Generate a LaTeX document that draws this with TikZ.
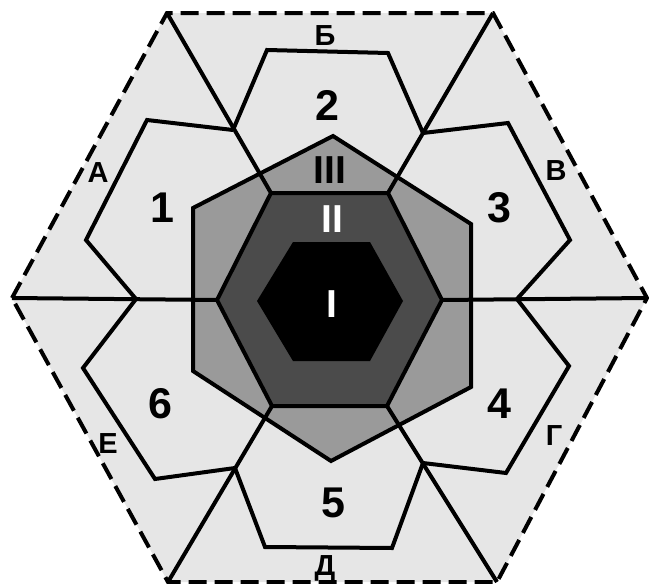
\documentclass[tikz,border=0pt]{standalone}
\usepackage{fontspec}
\setmainfont{Liberation Sans}
\definecolor{zonelight}{HTML}{E6E6E6}
\definecolor{zonemid}{HTML}{9A9A9A}
\definecolor{zonedark}{HTML}{4B4B4B}

\begin{document}
\begin{tikzpicture}[x=1pt, y=-1pt, line join=miter,
    edge/.style={line width=4pt, black},
    border/.style={line width=4pt, black, dash pattern=on 18pt off 8pt},
    cellnum/.style={font=\fontsize{43}{43}\selectfont\bfseries, anchor=base, inner sep=0pt},
    sector/.style={font=\fontsize{29}{29}\selectfont\bfseries, anchor=base, inner sep=0pt},
    zone/.style={font=\fontsize{39}{39}\selectfont\bfseries, anchor=base, inner sep=0pt}]
  \useasboundingbox (0,0) rectangle (649,584);

  % Outer hexagon corners
  \coordinate (oL) at (12,298);
  \coordinate (oTL) at (167,13);
  \coordinate (oTR) at (493,13);
  \coordinate (oR) at (647,298);
  \coordinate (oBR) at (497,582);
  \coordinate (oBL) at (168,582);
  \fill[zonelight] (oL) -- (oTL) -- (oTR) -- (oR) -- (oBR) -- (oBL) -- cycle;

  % Zone III
  \fill[zonemid] (333,136) -- (471,224) -- (471,387) -- (331,461) -- (193,371) -- (193,208) -- cycle;
  \draw[edge] (333,136) -- (471,224) -- (471,387) -- (331,461) -- (193,371) -- (193,208) -- cycle;

  % Zone II corners
  \coordinate (iL) at (217,300);
  \coordinate (iTL) at (271,193);
  \coordinate (iTR) at (388,193);
  \coordinate (iR) at (442,300);
  \coordinate (iBR) at (387,406);
  \coordinate (iBL) at (272,406);

  % Junctions on the rays
  \coordinate (j1) at (233,130);
  \coordinate (j2) at (423,133);
  \coordinate (j3) at (517,299);
  \coordinate (j4) at (423,463);
  \coordinate (j5) at (235,468);
  \coordinate (j6) at (136,299);

  % Cells 1..6
  \draw[edge] (j1) -- (147,120) -- (86,240) -- (j6);
  \draw[edge] (j1) -- (267,50) -- (388,53) -- (j2);
  \draw[edge] (j2) -- (508,123) -- (570,240) -- (j3);
  \draw[edge] (j3) -- (569,366) -- (506,473) -- (j4);
  \draw[edge] (j4) -- (392,548) -- (265,547) -- (j5);
  \draw[edge] (j5) -- (155,479) -- (83,368) -- (j6);

  % Rays
  \draw[edge] (oTL) -- (iTL);
  \draw[edge] (oTR) -- (iTR);
  \draw[edge] (oR) -- (iR);
  \draw[edge] (oBR) -- (iBR);
  \draw[edge] (oBL) -- (iBL);
  \draw[edge] (oL) -- (iL);

  % Zone II and zone I
  \fill[zonedark] (iL) -- (iTL) -- (iTR) -- (iR) -- (iBR) -- (iBL) -- cycle;
  \draw[edge] (iL) -- (iTL) -- (iTR) -- (iR) -- (iBR) -- (iBL) -- cycle;
  \fill[black] (257,301) -- (293,242) -- (370,242) -- (403,301) -- (370,361) -- (293,361) -- cycle;

  % Dashed border
  \draw[border] (oL) -- (oTL) -- (oTR) -- (oR) -- (oBR) -- (oBL) -- cycle;

  % Labels
  \node[cellnum] (n1) at (162,222) {1};
  \node[cellnum] (n2) at (327,120) {2};
  \node[cellnum] (n3) at (499,222) {3};
  \node[cellnum] (n4) at (499,418) {4};
  \node[cellnum] (n5) at (333,517) {5};
  \node[cellnum] (n6) at (160,418) {6};
  \node[sector] (sa) at (98,182) {А};
  \node[sector] (sb) at (325,45) {Б};
  \node[sector] (sv) at (556,180) {В};
  \node[sector] (sg) at (554,445) {Г};
  \node[sector] (sd) at (325,575) {Д};
  \node[sector] (se) at (108,453) {Е};
  \node[zone] (z3) at (330,183) {III};
  \node[zone, white] (z2) at (332,232) {II};
  \node[zone, white] (z1) at (332,317) {I};
\end{tikzpicture}
\end{document}
